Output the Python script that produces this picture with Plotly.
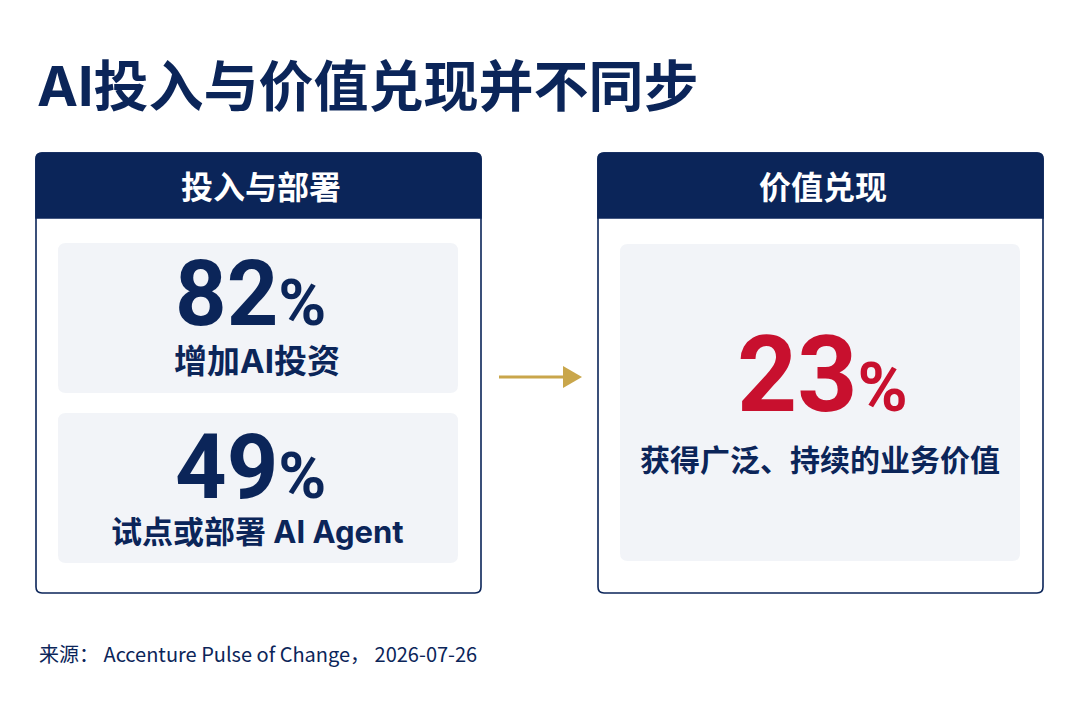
import plotly.graph_objects as go

# ---- data ----
title_text = "AI投入与价值兑现并不同步"
panel_titles = ["投入与部署", "价值兑现"]
left_values = [82, 49]
left_labels = ["增加AI投资", "试点或部署 AI Agent"]
right_value = 23
right_label = "获得广泛、持续的业务价值"
source_text = "来源： Accenture Pulse of Change， 2026-07-26"

NAVY = "#0B2559"
RED = "#C8102E"
GOLD = "#C9A64B"
CARD = "#F2F4F8"
NUM = "Roboto, Inter, sans-serif"
FONT = "Inter, Noto Sans CJK SC, sans-serif"
CJK = "Noto Sans CJK SC, Inter, sans-serif"

OFF = 8  # page body margin compensation


def rrect(x0, y0, x1, y1, r, top_only=False):
    if top_only:
        return (f"M{x0},{y1} L{x0},{y0+r} Q{x0},{y0} {x0+r},{y0} L{x1-r},{y0} "
                f"Q{x1},{y0} {x1},{y0+r} L{x1},{y1} Z")
    return (f"M{x0+r},{y0} L{x1-r},{y0} Q{x1},{y0} {x1},{y0+r} L{x1},{y1-r} "
            f"Q{x1},{y1} {x1-r},{y1} L{x0+r},{y1} Q{x0},{y1} {x0},{y1-r} "
            f"L{x0},{y0+r} Q{x0},{y0} {x0+r},{y0} Z")


fig = go.Figure()
shapes = []
ann = []

panels = [(36, 481), (598, 1043)]
for (x0, x1), t in zip(panels, panel_titles):
    shapes.append(dict(type="path", path=rrect(x0, 153, x1, 593, 6),
                       fillcolor="white", line=dict(color=NAVY, width=1.6), layer="below"))
    shapes.append(dict(type="path", path=rrect(x0, 153, x1, 218, 6, top_only=True),
                       fillcolor=NAVY, line=dict(color=NAVY, width=1.6), layer="below"))
    ann.append(dict(x=(x0 + x1) / 2 + 2, y=185, text=f"<b>{t}</b>", showarrow=False,
                    font=dict(family=CJK, size=32, color="white"), xanchor="center", yanchor="middle"))

# left cards
cards = [(243, 393), (413, 563)]
for i, ((y0, y1), v, lab) in enumerate(zip(cards, left_values, left_labels)):
    shapes.append(dict(type="path", path=rrect(58, y0, 458, y1, 8), fillcolor=CARD,
                       line=dict(width=0), layer="below"))
    ann.append(dict(x=250, y=y0 + 51 + 3 * i, text=f"<b>{v}<span style='font-size:65px'>%</span></b>",
                    showarrow=False, font=dict(family=NUM, size=90, color=NAVY),
                    xanchor="center", yanchor="middle"))
    ann.append(dict(x=257, y=y0 + 118, text=f"<b>{lab}</b>", showarrow=False,
                    font=dict(family=FONT, size=31 if i else 33, color=NAVY),
                    xanchor="center", yanchor="middle"))

# right card
shapes.append(dict(type="path", path=rrect(620, 244, 1020, 561, 8), fillcolor=CARD,
                   line=dict(width=0), layer="below"))
ann.append(dict(x=822, y=375, text=f"<b>{right_value}<span style='font-size:68px'>%</span></b>",
                showarrow=False, font=dict(family=NUM, size=105, color=RED),
                xanchor="center", yanchor="middle"))
ann.append(dict(x=820, y=458, text=f"<b>{right_label}</b>", showarrow=False,
                font=dict(family=CJK, size=30, color=NAVY), xanchor="center", yanchor="middle"))

# arrow
shapes.append(dict(type="line", x0=499, y0=377, x1=565, y1=377, line=dict(color=GOLD, width=3)))
shapes.append(dict(type="path", path="M563,366 L582,377 L563,388 Z", fillcolor=GOLD, line=dict(width=0)))

# title
ann.append(dict(x=35, y=86, text=f"<b>{title_text}</b>", showarrow=False,
                font=dict(family=FONT, size=55, color=NAVY), xanchor="left", yanchor="middle"))
# source
ann.append(dict(x=37, y=653, text=source_text, showarrow=False,
                font=dict(family=CJK, size=20, color=NAVY), xanchor="left", yanchor="middle"))

fig.update_layout(
    width=1080, height=720, margin=dict(l=0, r=0, t=0, b=0),
    paper_bgcolor="white", plot_bgcolor="white",
    xaxis=dict(range=[OFF, 1080 + OFF], visible=False, fixedrange=True),
    yaxis=dict(range=[720 + OFF, OFF], visible=False, fixedrange=True),
    shapes=shapes, annotations=ann, showlegend=False,
)
fig.write_html("out.html", config={"displayModeBar": False})
